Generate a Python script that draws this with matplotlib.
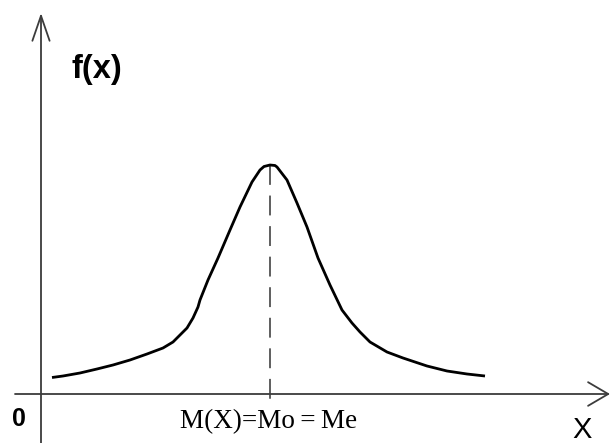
import matplotlib
matplotlib.use("Agg")
import matplotlib.pyplot as plt

# Density curve f(x), sampled along the drawn profile
curve_x = [0.11, 0.22, 0.39, 0.56, 0.72, 0.89, 1.06, 1.22, 1.32, 1.39, 1.46, 1.52,
           1.57, 1.59, 1.67, 1.77, 1.89, 1.99, 2.11, 2.19, 2.23, 2.29, 2.34, 2.36,
           2.46, 2.56, 2.66, 2.77, 2.89, 3.01, 3.11, 3.19, 3.29, 3.46, 3.62, 3.86,
           4.06, 4.26, 4.44]
curve_y = [0.165, 0.18, 0.21, 0.25, 0.29, 0.34, 0.40, 0.46, 0.52, 0.59, 0.66, 0.76,
           0.87, 0.94, 1.14, 1.36, 1.64, 1.87, 2.12, 2.24, 2.275, 2.29, 2.285, 2.27,
           2.14, 1.91, 1.67, 1.36, 1.09, 0.84, 0.71, 0.62, 0.52, 0.42, 0.36, 0.28,
           0.23, 0.20, 0.18]

# Location of the mode (= mean = median)
mode_x = 2.29
mode_y = 2.29

x_label = "X"
y_label = "f(x)"
origin_label = "0"
center_label = "M(X)=Mo\u2009=\u2009Me"

fig = plt.figure(figsize=(6.11, 4.43), dpi=100)
ax = fig.add_axes([0, 0, 1, 1])
ax.set_xlim(-0.41, 5.70)
ax.set_ylim(-0.49, 3.94)
ax.axis("off")

axis_color = "#3c3c3c"

# Coordinate axes with open arrowheads
ax.annotate("", xy=(5.69, 0.0), xytext=(-0.26, 0.0),
            arrowprops=dict(arrowstyle="->,head_length=1.45,head_width=0.85",
                            color=axis_color, lw=1.3, mutation_scale=10,
                            shrinkA=0, shrinkB=0))
ax.annotate("", xy=(0.0, 3.81), xytext=(0.0, -0.49),
            arrowprops=dict(arrowstyle="->,head_length=1.8,head_width=0.62",
                            color=axis_color, lw=1.3, mutation_scale=10,
                            shrinkA=0, shrinkB=0))

# Dashed line from the peak down to the x axis
ax.plot([mode_x, mode_x], [mode_y, -0.06], color="#333333", lw=1.1,
        linestyle=(0, (13, 7)), solid_capstyle="butt")

# The curve itself
ax.plot(curve_x, curve_y, color="black", lw=2.0, solid_joinstyle="round",
        solid_capstyle="butt")

# Labels
ax.text(0.31, 3.24, y_label, fontsize=23.5, fontweight="bold",
        family="Liberation Sans", ha="left", va="center")
ax.text(-0.225, -0.245, origin_label, fontsize=18, fontweight="bold",
        family="Liberation Sans", ha="center", va="center")
ax.text(5.41, -0.365, x_label, fontsize=21, family="Liberation Sans",
        ha="center", va="center")
ax.text(mode_x - 0.01, -0.28, center_label, fontsize=19.5,
        family=["Liberation Serif", "DejaVu Serif"], ha="center", va="center")

fig.savefig("out.png", dpi=100)
